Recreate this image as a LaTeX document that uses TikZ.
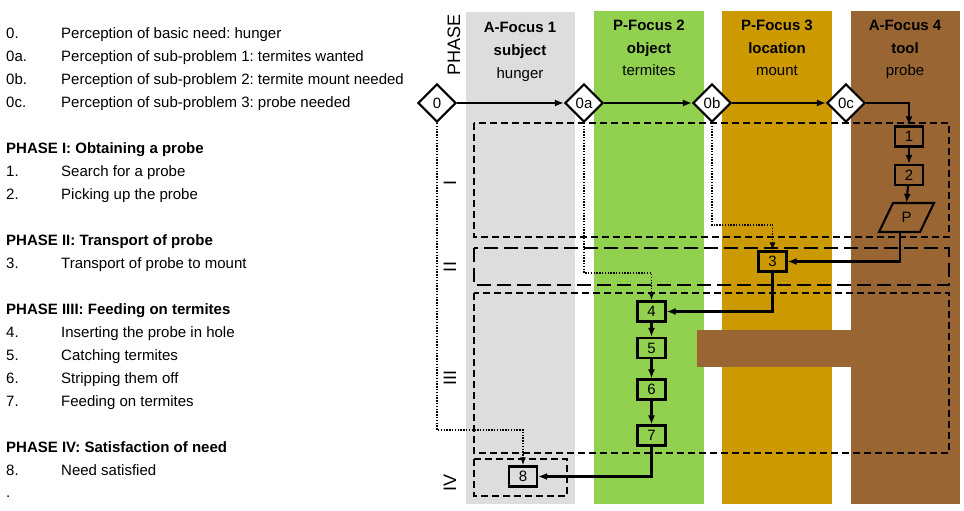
\documentclass[tikz,border=0pt]{standalone}
\usepackage{fontspec}
\setmainfont{Liberation Sans}
\usetikzlibrary{shapes.geometric,arrows.meta,calc}
\definecolor{cgray}{RGB}{221,221,221}
\definecolor{cgreen}{RGB}{146,208,80}
\definecolor{cgold}{RGB}{204,153,0}
\definecolor{cbrown}{RGB}{153,102,51}
\frenchspacing
\begin{document}
\begin{tikzpicture}[x=1pt,y=-1pt,
 every node/.style={font=\fontsize{15}{18}\selectfont, inner sep=0pt},
 txt/.style={anchor=base west},
 hdr/.style={anchor=base},
 stepbox/.style={draw, line width=2.1pt, minimum width=28pt, minimum height=20pt},
 dia/.style={draw, fill=white, shape=diamond, line width=2.1pt, minimum width=38pt, minimum height=38pt, inner sep=0pt},
 arr/.style={line width=2.1pt, -{Latex[length=9pt,width=7pt]}},
 dotarr/.style={line width=1.6pt, dash pattern=on 1.4pt off 1.4pt, -{Latex[length=8pt,width=6pt]}},
 shortdash/.style={line width=1.9pt, dash pattern=on 7pt off 4pt},
 longdash/.style={line width=1.9pt, dash pattern=on 14pt off 6pt},
 phaselbl/.style={rotate=90, font=\fontsize{18}{20}\selectfont}
]
\useasboundingbox (0,0) rectangle (964,511);

% columns
\fill[cgray] (466,12) rectangle (575,504);
\fill[cgreen] (594,11) rectangle (704,504);
\fill[cgold] (722,11) rectangle (832,504);
\fill[cbrown] (851,11) rectangle (960,504);
\fill[cbrown] (697,330) rectangle (851,367);

% headers
\node[hdr] (h1a) at (520,33) {\bfseries A-Focus 1};
\node[hdr] (h1b) at (520,56) {\bfseries subject};
\node[hdr] (h1c) at (520,78) {hunger};
\node[hdr] (h2a) at (649,31) {\bfseries P-Focus 2};
\node[hdr] (h2b) at (649,54) {\bfseries object};
\node[hdr] (h2c) at (649,76) {termites};
\node[hdr] (h3a) at (777,31) {\bfseries P-Focus 3};
\node[hdr] (h3b) at (777,54) {\bfseries location};
\node[hdr] (h3c) at (777,76) {mount};
\node[hdr] (h4a) at (905,31) {\bfseries A-Focus 4};
\node[hdr] (h4b) at (905,54) {\bfseries tool};
\node[hdr] (h4c) at (905,76) {probe};

% phase labels
\node[phaselbl] (ph) at (454,45) {PHASE};
\node[phaselbl] (pI) at (450,183) {I};
\node[phaselbl] (pII) at (450,267) {II};
\node[phaselbl] (pIII) at (450,378) {III};
\node[phaselbl] (pIV) at (450,483) {IV};

% left list
\foreach \yy/\lab/\txt [count=\i] in {
 38.5/{0.}/{Perception of basic need: hunger},
 61.5/{0a.}/{Perception of sub-problem 1: termites wanted},
 84.5/{0b.}/{Perception of sub-problem 2: termite mount needed},
 107.5/{0c.}/{Perception of sub-problem 3: probe needed},
 176.5/{1.}/{Search for a probe},
 199.5/{2.}/{Picking up the probe},
 268.5/{3.}/{Transport of probe to mount},
 337.5/{4.}/{Inserting the probe in hole},
 360.5/{5.}/{Catching termites},
 383.5/{6.}/{Stripping them off},
 406.5/{7.}/{Feeding on termites},
 475.5/{8.}/{Need satisfied}}
{
 \node[txt] (la\i) at (6,\yy) {\lab};
 \node[txt] (lt\i) at (61,\yy) {\txt};
}
\node[txt] (pt1) at (6,153.5) {\bfseries PHASE I: Obtaining a probe};
\node[txt] (pt2) at (6,245.5) {\bfseries PHASE II: Transport of probe};
\node[txt] (pt3) at (6,314.5) {\bfseries PHASE IIII: Feeding on termites};
\node[txt] (pt4) at (6,452.5) {\bfseries PHASE IV: Satisfaction of need};
\node[txt] (dot) at (6,497.5) {.};

% phase rectangles
\draw[shortdash] (474,123) rectangle (949,237);
\draw[longdash] (474,248) rectangle (949,285);
\draw[shortdash] (474,293) rectangle (949,453);
\draw[shortdash] (474,459) rectangle (567,496);

% nodes
\node[dia] (d0) at (437,103) {0};
\node[dia] (d0a) at (584,103) {0a};
\node[dia] (d0b) at (712,103) {0b};
\node[dia] (d0c) at (846,103) {0c};

\node[stepbox] (b1) at (909,136.5) {1};
\node[stepbox] (b2) at (909,175) {2};
\node[minimum width=28pt, minimum height=29pt] (P) at (906.5,217.5) {P};
\draw[line width=2.1pt] ($(P)+(-27.5,14.5)$) -- ($(P)+(-13.5,-14.5)$) -- ($(P)+(27.5,-14.5)$) -- ($(P)+(13.5,14.5)$) -- cycle;
\node[stepbox] (b3) at (772.5,261.5) {3};
\node[stepbox] (b4) at (651.5,311.5) {4};
\node[stepbox] (b5) at (651.5,348) {5};
\node[stepbox] (b6) at (651.5,389.5) {6};
\node[stepbox] (b7) at (651.5,435.5) {7};
\node[stepbox] (b8) at (523,476.5) {8};

% solid connectors
\draw[arr] (d0.east) -- (d0a.west);
\draw[arr] (d0a.east) -- (d0b.west);
\draw[arr] (d0b.east) -- (d0c.west);
\draw[arr] (d0c.east) -| (b1.north);
\draw[arr] (b1) -- (b2);
\draw[arr] (b2) -- (P.north);
\draw[arr] ($(P.south)+(-6.5,0)$) |- (b3.east);
\draw[arr] (b3.south) |- (b4.east);
\draw[arr] (b4) -- (b5);
\draw[arr] (b5) -- (b6);
\draw[arr] (b6) -- (b7);
\draw[arr] (b7.south) |- (b8.east);

% dotted connectors
\coordinate (k0) at (523,430);
\coordinate (k0a) at (651.5,273);
\coordinate (k0b) at (772.5,225);
\draw[dotarr] (d0.south) |- (k0) -- (b8.north);
\draw[dotarr] (d0a.south) |- (k0a) -- (b4.north);
\draw[dotarr] (d0b.south) |- (k0b) -- (b3.north);
\end{tikzpicture}
\end{document}
